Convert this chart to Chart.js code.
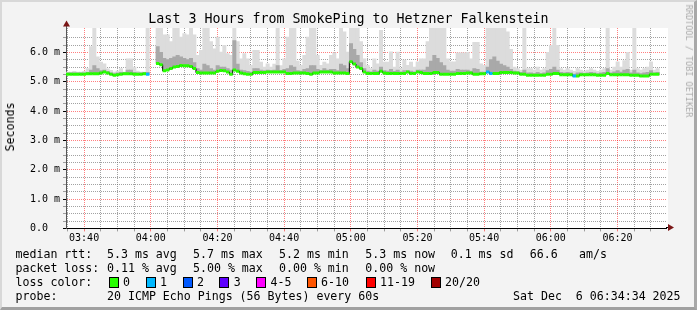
<!DOCTYPE html>
<html><head><meta charset="utf-8">
<script src="https://cdn.jsdelivr.net/npm/chart.js@4.4.1/dist/chart.umd.min.js"></script>
<style>
html,body{margin:0;padding:0;background:#f3f3f3;}
#wrap{position:relative;width:697px;height:310px;overflow:hidden;background:#f3f3f3;}
#frame{position:absolute;left:0;top:0;width:697px;height:310px;box-sizing:border-box;border-top:2px solid #d8d8d8;border-left:2px solid #d8d8d8;border-right:3px solid #a8a8a8;border-bottom:3px solid #a0a0a0;pointer-events:none;}
canvas{position:absolute;left:0;top:0;}
.t{position:absolute;font-family:'DejaVu Sans Mono',monospace;white-space:pre;color:#000;}
.lg{font-size:11.6px;line-height:14px;}
.box{position:absolute;width:8px;height:9px;border:1px solid #000;}
</style></head>
<body>
<div id="wrap">
<canvas id="c" width="697" height="310"></canvas>
<div id="txt"></div>
<div id="frame"></div>
</div>
<script>
// ---- data ----
const chartTitle = 'Last 3 Hours from SmokePing to Hetzner Falkenstein';
const yAxisTitle = 'Seconds';
const sideText = 'RRDTOOL / TOBI OETIKER';
const startTime = '03:34:34';
const endTime = '06:34:34';
const timeTickLabels = ['03:40','04:00','04:20','04:40','05:00','05:20','05:40','06:00','06:20'];
const yMajorValues = [0,1,2,3,4,5,6];
const yMaxMs = 6.83;

// median RTT per minute (ms)
const medianRtt = [
 5.25,5.25,5.25,5.25,5.25,5.25,5.27,5.27,5.27,5.27,
 5.30,5.33,5.30,5.25,5.22,5.24,5.25,5.27,5.27,5.27,
 5.25,5.25,5.25,5.27,5.25,null,null,5.62,5.58,5.37,
 5.40,5.45,5.50,5.52,5.55,5.54,5.54,5.52,5.45,5.31,
 5.30,5.30,5.30,5.30,5.30,5.36,5.38,5.37,5.33,5.25,
 5.40,5.36,5.30,5.27,5.25,5.25,5.31,5.31,5.31,5.31,
 5.33,5.33,5.33,5.33,5.33,5.33,5.28,5.28,5.30,5.30,
 5.30,5.30,5.28,5.25,5.30,5.30,5.33,5.33,5.33,5.33,
 5.30,5.30,5.30,5.30,5.28,5.68,5.60,5.50,5.45,5.33,
 5.28,5.28,5.28,5.28,5.36,5.30,5.28,5.28,5.28,5.28,
 5.28,5.28,5.33,5.28,5.28,5.33,5.31,5.28,5.28,5.28,
 5.31,5.31,5.25,5.25,5.25,5.25,5.25,5.28,5.28,5.28,
 5.30,5.30,5.25,5.25,5.27,5.27,5.33,5.28,5.28,5.28,
 5.31,5.31,5.31,5.31,5.30,5.30,5.25,5.25,5.22,5.22,
 5.22,5.22,5.22,5.22,5.25,5.25,5.28,5.28,5.24,5.24,
 5.24,5.24,5.19,5.19,5.24,5.24,5.24,5.24,5.24,5.22,
 5.22,5.22,5.28,5.24,5.24,5.24,5.24,5.24,5.24,5.22,
 5.22,5.22,5.19,5.19,5.19,5.25,5.25,5.25
];
// upper edge of the darker smoke (ms)
const midRtt = [
 5.30,5.30,5.30,5.30,5.30,5.30,5.32,5.40,5.55,5.45,
 5.38,5.40,5.35,5.30,5.28,5.30,5.32,5.31,5.40,5.40,
 5.32,5.30,5.30,5.31,5.32,null,null,6.20,6.00,5.80,
 5.75,5.80,5.85,5.90,5.85,5.80,5.75,5.80,5.65,5.45,
 5.40,5.60,5.55,5.45,5.40,5.55,5.50,5.50,5.45,5.40,
 6.40,5.60,5.40,5.38,5.35,5.33,5.45,5.45,5.40,5.38,
 5.40,5.38,5.40,5.55,5.38,5.42,5.45,5.55,5.50,5.38,
 5.36,5.42,5.45,5.55,5.55,5.42,5.38,5.45,5.40,5.42,
 5.42,5.38,5.60,5.55,5.45,6.30,6.10,5.90,5.65,5.45,
 5.36,5.34,5.40,5.36,5.50,5.38,5.36,5.42,5.35,5.40,
 5.34,5.38,5.38,5.36,5.34,5.40,5.40,5.40,5.50,5.70,
 5.90,5.80,5.65,5.55,5.40,5.36,5.36,5.42,5.40,5.40,
 5.40,5.36,5.45,5.42,5.33,5.33,5.50,5.75,5.85,5.70,
 5.60,5.55,5.50,5.42,5.36,5.34,5.32,5.40,5.30,5.30,
 5.28,5.32,5.28,5.30,5.38,5.42,5.50,5.40,5.32,5.30,
 5.32,5.30,5.26,5.30,5.30,5.28,5.30,5.32,5.30,5.28,
 5.30,5.32,5.45,5.30,5.34,5.38,5.33,5.40,5.42,5.30,
 5.40,5.30,5.28,5.30,5.32,5.38,5.30,5.32
];
// upper edge of the light smoke (slowest ping, ms)
const maxRtt = [
 5.33,5.33,5.35,5.33,5.33,5.35,5.45,6.20,6.83,5.85,
 5.67,5.61,5.44,5.39,5.33,5.36,5.45,5.33,5.78,5.78,
 5.50,5.36,5.33,5.33,6.83,null,null,6.83,6.83,6.60,
 6.60,6.37,6.83,6.83,6.52,6.64,6.60,6.83,6.60,5.90,
 6.07,6.83,6.83,6.37,6.12,6.52,6.01,6.24,5.96,5.90,
 6.83,6.37,5.78,5.96,5.78,5.56,6.07,6.07,5.67,5.50,
 5.61,5.50,5.60,6.83,5.55,5.78,6.52,6.83,6.83,5.70,
 5.56,5.90,6.52,6.83,6.83,5.90,5.56,5.67,5.61,5.90,
 5.98,5.78,6.83,6.70,6.01,6.83,6.83,6.83,6.37,5.78,
 5.56,5.45,5.78,5.61,6.75,5.67,5.67,6.02,5.50,6.01,
 5.45,5.74,5.56,5.67,5.50,5.68,5.78,5.78,6.37,6.83,
 6.83,6.83,6.83,6.83,5.78,5.68,5.68,5.98,5.98,5.98,
 6.00,5.78,6.34,6.34,5.61,5.56,6.83,6.83,6.83,6.83,
 6.83,6.83,6.70,6.10,5.50,5.45,5.40,6.83,5.45,5.45,
 5.40,5.50,5.40,5.45,6.00,6.24,6.83,6.24,5.45,5.40,
 5.45,5.40,5.35,5.45,5.40,5.35,5.40,5.45,5.40,5.35,
 5.40,5.45,6.83,5.40,5.50,5.68,5.50,5.72,6.00,5.40,
 6.83,5.45,5.40,5.45,5.50,5.68,5.40,5.45
];
// lost pings (of 20) per minute
const lostPings = [
 0,0,0,0,0,0,0,0,0,0, 0,0,0,0,0,0,0,0,0,0, 0,0,0,0,1,0,0,0,0,0,
 0,0,0,0,0,0,0,0,0,0, 0,0,0,0,0,0,0,0,0,0, 0,0,0,0,0,0,0,0,0,0,
 0,0,0,0,0,0,0,0,0,0, 0,0,0,0,0,0,0,0,0,0, 0,0,0,0,0,0,0,0,0,0,
 0,0,0,0,0,0,0,0,0,0, 0,0,0,0,0,0,0,0,0,0, 0,0,0,0,0,0,0,0,0,0,
 0,0,0,0,0,0,1,1,0,0, 0,0,0,0,0,0,0,0,0,0, 0,0,0,0,0,0,0,0,0,0,
 0,0,1,0,0,0,0,0,0,0, 0,0,0,0,0,0,0,0
];

const rttLabel = 'median rtt:';
const rttStats = ['5.3 ms avg','5.7 ms max','5.2 ms min','5.3 ms now','0.1 ms sd','66.6','am/s'];
const lossLabel = 'packet loss:';
const lossStats = ['0.11 % avg','5.00 % max','0.00 % min','0.00 % now'];
const colorLabel = 'loss color:';
const lossLevels = ['0','1','2','3','4-5','6-10','11-19','20/20'];
const lossColors = ['#26ff00','#00b8ff','#0059ff','#5e00ff','#ff00ff','#ff5500','#ff0000','#a10000'];
const probeLabel = 'probe:';
const probeText = '20 ICMP Echo Pings (56 Bytes) every 60s';
const dateText = 'Sat Dec  6 06:34:34 2025';

// ---- helpers ----
function toMin(s){ const p = s.split(':').map(Number); return p[0]*60 + p[1] + (p[2]||0)/60; }
const startMin = toMin(startTime), endMin = toMin(endTime);
const xs = medianRtt.map((_, i) => startMin + i + 0.5);
function lossColor(n){
  if (n <= 0) return lossColors[0];
  if (n === 1) return lossColors[1];
  if (n === 2) return lossColors[2];
  if (n === 3) return lossColors[3];
  if (n <= 5) return lossColors[4];
  if (n <= 10) return lossColors[5];
  if (n <= 19) return lossColors[6];
  return lossColors[7];
}
const RED = 'rgba(255,0,0,0.5)', GRAY = 'rgba(100,100,100,0.6)';
const FONT = "'DejaVu Sans Mono', monospace";

// ---- text overlay ----
const txt = document.getElementById('txt');
function addText(s, x, y, cls, extra){
  const d = document.createElement('div');
  d.className = 't ' + (cls||'');
  d.textContent = s;
  d.style.left = x + 'px'; d.style.top = y + 'px';
  if (extra) Object.assign(d.style, extra);
  txt.appendChild(d); return d;
}
addText(chartTitle, 0, 11, '', {width:'697px', textAlign:'center', fontSize:'13.3px', lineHeight:'16px'});
addText(yAxisTitle, 10.4, 126.5, 'lg', {transform:'translate(-50%,-50%) rotate(-90deg)'});
addText(sideText, 688.5, 61, '', {fontSize:'8.5px', lineHeight:'10px', color:'#ababab', transform:'translate(-50%,-50%) rotate(90deg)'});
const rowTop = [247.3, 261.3, 275.3, 289.3];
const colX = [107, 193, 279, 365.3, 450.7, 529.7, 579];
addText(rttLabel, 15.5, rowTop[0], 'lg');
rttStats.forEach((s,i) => addText(s, colX[i], rowTop[0], 'lg'));
addText(lossLabel, 15.5, rowTop[1], 'lg');
lossStats.forEach((s,i) => addText(s, colX[i], rowTop[1], 'lg'));
addText(colorLabel, 15.5, rowTop[2], 'lg');
const boxX = [108.5, 145.5, 182.5, 219.3, 256, 306.5, 365.5, 430.5];
lossLevels.forEach((s,i) => {
  const b = document.createElement('div');
  b.className = 'box';
  b.style.left = boxX[i] + 'px'; b.style.top = '277px';
  b.style.background = lossColors[i];
  txt.appendChild(b);
  addText(s, boxX[i] + 14.5, rowTop[2], 'lg');
});
addText(probeLabel, 15.5, rowTop[3], 'lg');
addText(probeText, 107, rowTop[3], 'lg');
addText(dateText, 513, rowTop[3], 'lg');

// ---- chart ----
const framePlugin = {
  id: 'frame',
  beforeDraw(chart){
    const {ctx, chartArea:a} = chart;
    ctx.save(); ctx.fillStyle = '#ffffff';
    ctx.fillRect(a.left, a.top, a.right - a.left + 2, a.bottom - a.top);
    ctx.restore();
  },
  afterDraw(chart){
    const {ctx, chartArea:a} = chart;
    const lx = Math.round(a.left) + 0.5, by = Math.round(a.bottom) - 0.5;
    ctx.save();
    ctx.strokeStyle = '#555'; ctx.lineWidth = 1;
    ctx.beginPath(); ctx.moveTo(lx, a.top); ctx.lineTo(lx, 24); ctx.stroke();
    ctx.strokeStyle = '#000';
    ctx.beginPath(); ctx.moveTo(a.right, by); ctx.lineTo(669, by); ctx.stroke();
    ctx.fillStyle = '#7a1616';
    ctx.beginPath(); ctx.moveTo(lx, 20.5); ctx.lineTo(lx - 3.5, 26.5); ctx.lineTo(lx + 3.5, 26.5); ctx.closePath(); ctx.fill();
    ctx.beginPath(); ctx.moveTo(674, by); ctx.lineTo(668, by - 3.5); ctx.lineTo(668, by + 3.5); ctx.closePath(); ctx.fill();
    ctx.restore();
  }
};

new Chart(document.getElementById('c'), {
  type: 'bar',
  data: {
    datasets: [
      { type:'bar', label:'smoke light', order:4, grouped:false,
        data: xs.map((x,i) => ({x, y: maxRtt[i]==null ? null : [medianRtt[i], maxRtt[i]]})),
        backgroundColor:'#dcdcdc', borderWidth:0, barPercentage:1, categoryPercentage:1 },
      { type:'bar', label:'smoke dark', order:3, grouped:false,
        data: xs.map((x,i) => ({x, y: midRtt[i]==null ? null : [medianRtt[i], midRtt[i]]})),
        backgroundColor:'#a9a9a9', borderWidth:0, barPercentage:1, categoryPercentage:1 },
      { type:'line', label:'median step', order:2,
        data: xs.map((x,i) => ({x, y: medianRtt[i]})),
        borderColor:'#000', borderWidth:1, stepped:'middle', pointRadius:0, spanGaps:false },
      { type:'line', label:'median', order:1, showLine:false,
        data: xs.map((x,i) => ({x, y: medianRtt[i]})),
        pointStyle:'line', pointRadius:1.67, pointHoverRadius:1.67, pointBorderWidth:3,
        pointBorderColor: ctx => lossColor(lostPings[ctx.dataIndex] || 0),
        pointBackgroundColor: 'transparent' }
    ]
  },
  options: {
    responsive:false, animation:false, devicePixelRatio:1, events:[],
    layout:{ padding:{ left:0, right:31, top:28, bottom:0 } },
    plugins:{ legend:{display:false}, tooltip:{enabled:false} },
    scales:{
      x:{ type:'linear', min:startMin, max:endMin, offset:false,
        afterBuildTicks: s => {
          const t = [];
          for (let m = Math.ceil(startMin/5)*5; m <= endMin; m += 5) t.push({value:m});
          s.ticks = t;
        },
        afterFit: s => { s.height = 81.6; },
        ticks:{ autoSkip:false, maxRotation:0, minRotation:0, padding:1, color:'#000',
          font:{family:FONT, size:10},
          callback: v => { const l = timeTickLabels.find(s => Math.abs(toMin(s) - v) < 1e-6); return l || ''; } },
        grid:{ offset:false, drawTicks:true, tickLength:3, lineWidth:1,
          color: c => (c.tick && Math.round(c.tick.value) % 20 === 0) ? RED : GRAY,
          tickColor: c => (c.tick && Math.round(c.tick.value) % 20 === 0) ? RED : GRAY },
        border:{ display:true, color:'#000', width:1, dash:[1,1] }
      },
      y:{ type:'linear', min:0, max:yMaxMs,
        afterBuildTicks: s => { s.ticks = s.ticks.filter(t => Math.abs(t.value*4 - Math.round(t.value*4)) < 1e-6 && t.value <= yMaxMs); },
        afterFit: s => { s.width = 66; },
        ticks:{ stepSize:0.25, autoSkip:false, padding:3, color:'#000',
          font:{family:FONT, size:10},
          callback: v => {
            const m = yMajorValues.find(y => Math.abs(y - v) < 1e-6);
            if (m === undefined) return '';
            return m === 0 ? '0.0  ' : m.toFixed(1) + ' m';
          } },
        grid:{ drawTicks:true, tickLength:3, lineWidth:1,
          color: c => { const v = c.tick ? c.tick.value : 1; if (Math.abs(v) < 1e-6) return 'rgba(0,0,0,0)'; return yMajorValues.some(y => Math.abs(y - v) < 1e-6) ? RED : GRAY; },
          tickColor: c => { const v = c.tick ? c.tick.value : 1; return yMajorValues.some(y => Math.abs(y - v) < 1e-6) ? '#000' : GRAY; } },
        border:{ display:true, color:'#555', width:1, dash:[1,1] }
      }
    }
  },
  plugins:[framePlugin]
});
</script>
</body></html>
